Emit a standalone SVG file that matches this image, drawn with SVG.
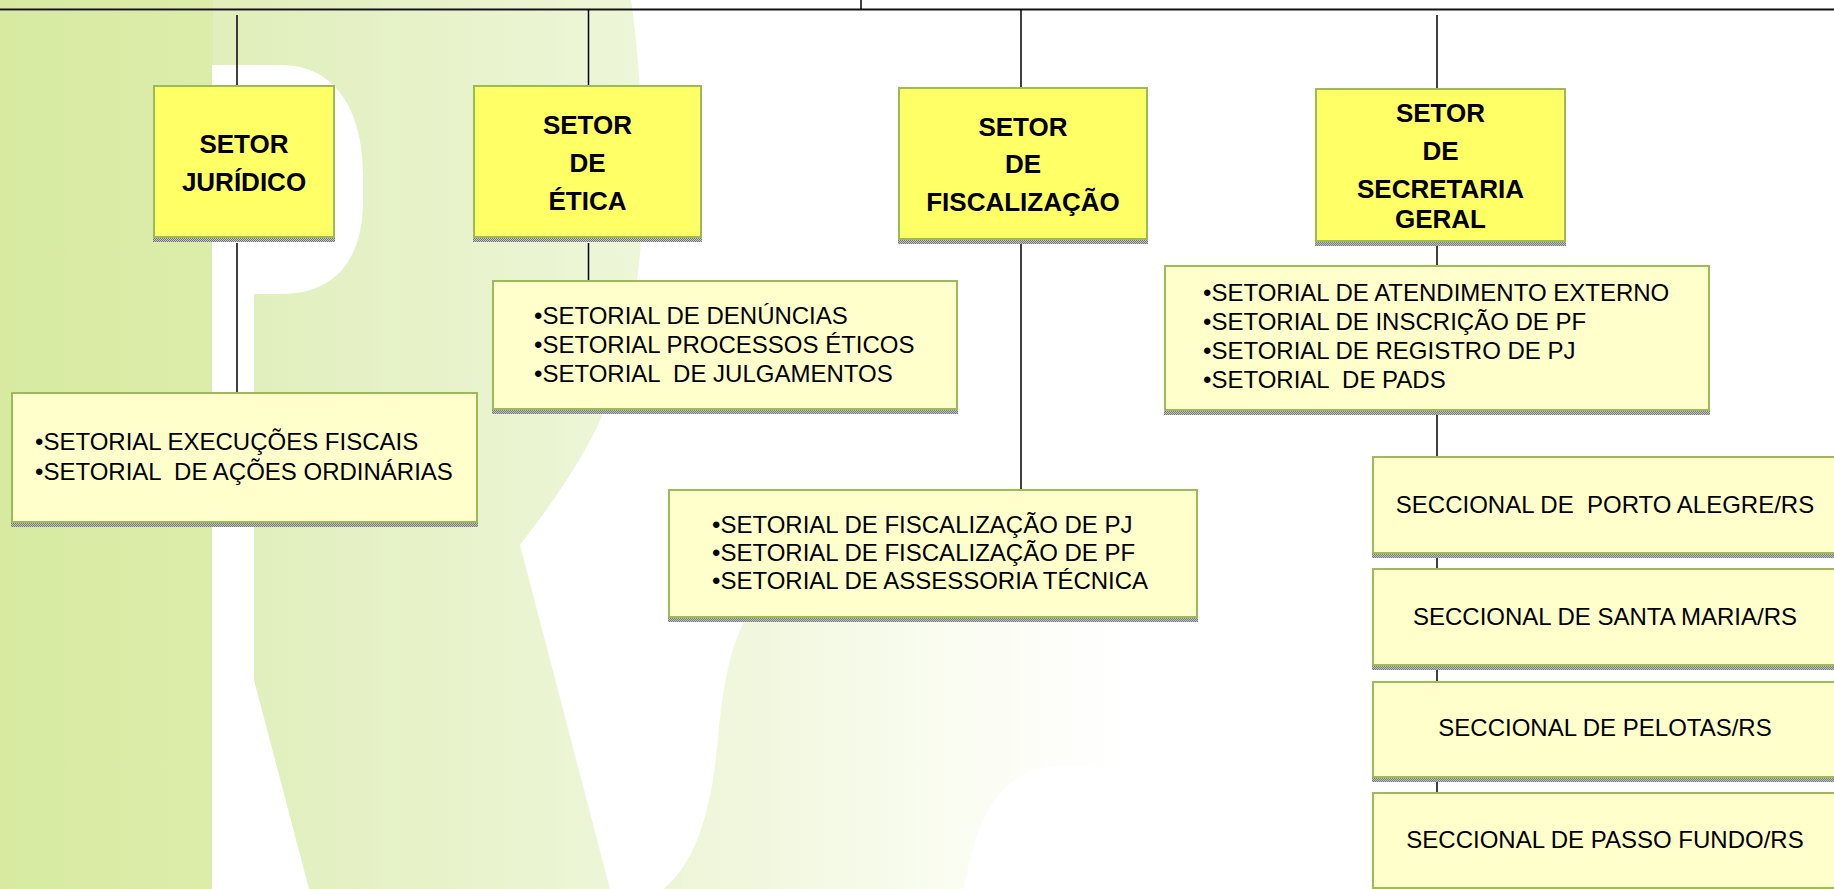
<svg xmlns="http://www.w3.org/2000/svg" width="1834" height="889" viewBox="0 0 1834 889">
<defs>
  <linearGradient id="gBand" gradientUnits="userSpaceOnUse" x1="0" y1="0" x2="212" y2="0">
    <stop offset="0" stop-color="#d7eaa0"/>
    <stop offset="1" stop-color="#dcedab"/>
  </linearGradient>
  <linearGradient id="gR" gradientUnits="userSpaceOnUse" x1="254" y1="0" x2="645" y2="0">
    <stop offset="0" stop-color="#e1efbd"/>
    <stop offset="1" stop-color="#eef6d9"/>
  </linearGradient>
  <linearGradient id="gF" gradientUnits="userSpaceOnUse" x1="663" y1="0" x2="1120" y2="0">
    <stop offset="0" stop-color="#edf5d6"/>
    <stop offset="0.6" stop-color="#f9fcef"/>
    <stop offset="1" stop-color="#ffffff"/>
  </linearGradient>
  <pattern id="sh" width="2" height="2" patternUnits="userSpaceOnUse">
    <rect width="2" height="2" fill="#c4c4c4"/>
    <rect width="1" height="1" fill="#777"/>
    <rect x="1" y="1" width="1" height="1" fill="#777"/>
  </pattern>
  <style>
    .main { fill: #ffff66; stroke: #9bbb59; stroke-width: 2; }
    .sub { fill: #ffffcc; stroke: #9bbb59; stroke-width: 2; }
    .shadow { fill: url(#sh); }
    .t-b { font-family: "Liberation Sans", Arial, sans-serif; font-size: 26px; font-weight: bold; fill: #000; text-anchor: middle; }
    .t { font-family: "Liberation Sans", Arial, sans-serif; font-size: 24px; fill: #000; white-space: pre; }
    .t-c { font-family: "Liberation Sans", Arial, sans-serif; font-size: 24px; fill: #000; white-space: pre; text-anchor: middle; }
    .conn line { stroke: #000; stroke-width: 1.5; }
  </style>
</defs>

<!-- background watermark -->
<rect x="0" y="0" width="1834" height="889" fill="#ffffff"/>
<rect x="0" y="0" width="213" height="889" fill="url(#gBand)"/>
<path d="M213,0 L631,0 C640,60 645,150 642,227 C638,300 625,350 610,397 C590,450 555,500 520,545 L610,889 L213,889 Z" fill="url(#gR)"/>
<path d="M212,65 L281,65 C335,65 363,110 363,175 L363,200 C363,260 335,294 281,294 L254,294 L254,680 L309,889 L212,889 Z" fill="#ffffff"/>
<path d="M663,889 C700,860 712,800 718,740 C724,670 735,625 760,600 L1120,600 L1120,766 L1060,766 C1000,766 975,820 964,889 Z" fill="url(#gF)"/>

<!-- connectors -->
<g id="connectors" class="conn">
  <line x1="0" y1="10.5" x2="1834" y2="10.5" style="stroke:#8a8a8a;stroke-width:1"/>
  <line x1="0" y1="9.2" x2="1834" y2="9.2" style="stroke:#111;stroke-width:1.6"/>
  <line x1="861" y1="0" x2="861" y2="9"/>
  <line x1="237" y1="15" x2="237" y2="86"/>
  <line x1="237" y1="243" x2="237" y2="393"/>
  <line x1="588.5" y1="9" x2="588.5" y2="86"/>
  <line x1="588.5" y1="243" x2="588.5" y2="281"/>
  <line x1="1021" y1="9" x2="1021" y2="88"/>
  <line x1="1021" y1="244" x2="1021" y2="490"/>
  <line x1="1437" y1="15" x2="1437" y2="89"/>
  <line x1="1437" y1="246" x2="1437" y2="266"/>
  <line x1="1437" y1="414" x2="1437" y2="457"/>
  <line x1="1437" y1="557" x2="1437" y2="569"/>
  <line x1="1437" y1="669" x2="1437" y2="682"/>
  <line x1="1437" y1="781" x2="1437" y2="793"/>
</g>

<!-- main sectors -->
<g id="setor-juridico">
  <rect class="shadow" x="153" y="237" width="182" height="5"/>
  <rect class="main" x="154" y="86" width="180" height="151"/>
  <text class="t-b" x="244" y="152.5">SETOR</text>
  <text class="t-b" x="244" y="191">JURÍDICO</text>
</g>
<g id="setor-etica">
  <rect class="shadow" x="473" y="237" width="229" height="5"/>
  <rect class="main" x="474" y="86" width="227" height="151"/>
  <text class="t-b" x="587.5" y="133.5">SETOR</text>
  <text class="t-b" x="587.5" y="171.5">DE</text>
  <text class="t-b" x="587.5" y="210">ÉTICA</text>
</g>
<g id="setor-fiscalizacao">
  <rect class="shadow" x="898" y="239" width="250" height="5"/>
  <rect class="main" x="899" y="88" width="248" height="151"/>
  <text class="t-b" x="1023" y="135.5">SETOR</text>
  <text class="t-b" x="1023" y="173">DE</text>
  <text class="t-b" x="1023" y="211">FISCALIZAÇÃO</text>
</g>
<g id="setor-secretaria">
  <rect class="shadow" x="1315" y="241" width="251" height="5"/>
  <rect class="main" x="1316" y="89" width="249" height="152"/>
  <text class="t-b" x="1440.5" y="121.5">SETOR</text>
  <text class="t-b" x="1440.5" y="159.5">DE</text>
  <text class="t-b" x="1440.5" y="197.5">SECRETARIA</text>
  <text class="t-b" x="1440.5" y="227.5">GERAL</text>
</g>

<!-- setoriais -->
<g id="setoriais-juridico">
  <rect class="shadow" x="11" y="522" width="467" height="5"/>
  <rect class="sub" x="12" y="393" width="465" height="129"/>
  <text class="t" x="35" y="450">•SETORIAL EXECUÇÕES FISCAIS</text>
  <text class="t" x="35" y="479.5">•SETORIAL  DE AÇÕES ORDINÁRIAS</text>
</g>
<g id="setoriais-etica">
  <rect class="shadow" x="492" y="409" width="466" height="5"/>
  <rect class="sub" x="493" y="281" width="464" height="128"/>
  <text class="t" x="534" y="323.5">•SETORIAL DE DENÚNCIAS</text>
  <text class="t" x="534" y="352.5">•SETORIAL PROCESSOS ÉTICOS</text>
  <text class="t" x="534" y="381.5">•SETORIAL  DE JULGAMENTOS</text>
</g>
<g id="setoriais-fiscalizacao">
  <rect class="shadow" x="668" y="617" width="530" height="5"/>
  <rect class="sub" x="669" y="490" width="528" height="127"/>
  <text class="t" x="712" y="532.5">•SETORIAL DE FISCALIZAÇÃO DE PJ</text>
  <text class="t" x="712" y="560.5">•SETORIAL DE FISCALIZAÇÃO DE PF</text>
  <text class="t" x="712" y="589">•SETORIAL DE ASSESSORIA TÉCNICA</text>
</g>
<g id="setoriais-secretaria">
  <rect class="shadow" x="1164" y="410" width="546" height="5"/>
  <rect class="sub" x="1165" y="266" width="544" height="144"/>
  <text class="t" x="1203" y="301">•SETORIAL DE ATENDIMENTO EXTERNO</text>
  <text class="t" x="1203" y="330">•SETORIAL DE INSCRIÇÃO DE PF</text>
  <text class="t" x="1203" y="359">•SETORIAL DE REGISTRO DE PJ</text>
  <text class="t" x="1203" y="388">•SETORIAL  DE PADS</text>
</g>

<!-- seccionais -->
<g id="seccional-porto-alegre">
  <rect class="shadow" x="1372" y="553" width="470" height="5"/>
  <rect class="sub" x="1373" y="457" width="466" height="96"/>
  <text class="t-c" x="1605" y="512.5">SECCIONAL DE  PORTO ALEGRE/RS</text>
</g>
<g id="seccional-santa-maria">
  <rect class="shadow" x="1372" y="665" width="470" height="5"/>
  <rect class="sub" x="1373" y="569" width="466" height="96"/>
  <text class="t-c" x="1605" y="624.5">SECCIONAL DE SANTA MARIA/RS</text>
</g>
<g id="seccional-pelotas">
  <rect class="shadow" x="1372" y="777" width="470" height="5"/>
  <rect class="sub" x="1373" y="682" width="466" height="95"/>
  <text class="t-c" x="1605" y="735.5">SECCIONAL DE PELOTAS/RS</text>
</g>
<g id="seccional-passo-fundo">
  <rect class="sub" x="1373" y="793" width="466" height="95"/>
  <text class="t-c" x="1605" y="847.5">SECCIONAL DE PASSO FUNDO/RS</text>
</g>
</svg>
